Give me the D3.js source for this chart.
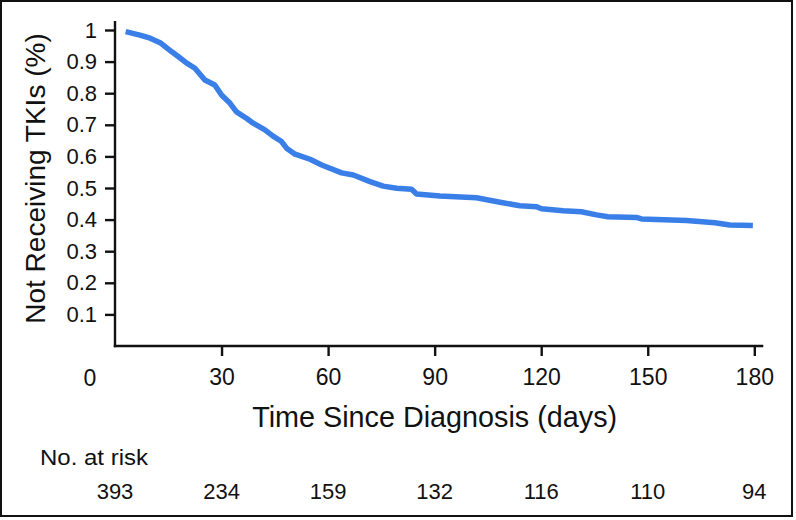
<!DOCTYPE html>
<html>
<head>
<meta charset="utf-8">
<script src="https://cdn.jsdelivr.net/npm/d3@7"></script>
<style>
  html, body { margin: 0; padding: 0; background: #fff; }
  svg { display: block; }
  text { font-family: "Liberation Sans", Arial, Helvetica, sans-serif; fill: #111; }
</style>
</head>
<body>
<svg id="chart" width="796" height="520"></svg>
<script>
// ---- data ----
const days = [3, 7, 9.9, 12.7, 16, 17.8, 20.2, 22.5, 25.3, 28.1, 30, 32.4, 34.2, 37.1, 38.9, 42.2, 44.5, 46.9, 48.3, 50.7, 54.9, 58.2, 63.8, 67.1, 71.8, 75.5, 79.3, 83.5, 84.9, 91.5, 101.8, 108.4, 114, 118.7, 120.1, 126.2, 131.3, 135.6, 138.8, 146.8, 148.2, 160.9, 168.9, 173.1, 179.6];
const notReceiving = [0.995, 0.984, 0.974, 0.960, 0.931, 0.916, 0.895, 0.879, 0.842, 0.826, 0.794, 0.768, 0.741, 0.720, 0.705, 0.684, 0.664, 0.647, 0.626, 0.607, 0.591, 0.573, 0.548, 0.541, 0.520, 0.506, 0.499, 0.496, 0.481, 0.475, 0.469, 0.455, 0.444, 0.441, 0.434, 0.428, 0.425, 0.415, 0.409, 0.407, 0.402, 0.397, 0.390, 0.383, 0.381];
const xTicks = [30, 60, 90, 120, 150, 180];
const yTicks = [0.1, 0.2, 0.3, 0.4, 0.5, 0.6, 0.7, 0.8, 0.9, 1];
const riskDays = [0, 30, 60, 90, 120, 150, 180];
const atRisk = [393, 234, 159, 132, 116, 110, 94];
const xTitle = "Time Since Diagnosis (days)";
const yTitle = "Not Receiving TKIs (%)";
const riskTitle = "No. at risk";

// ---- layout ----
const svg = d3.select("#chart");
const x = d3.scaleLinear().domain([0, 180]).range([115, 754.3]);
const y = d3.scaleLinear().domain([0, 1]).range([346, 30]);
const axisColor = "#111";

// outer frame
svg.append("rect")
  .attr("x", 1).attr("y", 1).attr("width", 791).attr("height", 515)
  .attr("fill", "none").attr("stroke", "#111").attr("stroke-width", 2);

// y axis
const yAxis = d3.axisLeft(y).tickValues(yTicks).tickSize(10).tickPadding(8)
  .tickFormat(d => d === 1 ? "1" : d3.format(".1f")(d));
const gy = svg.append("g").attr("transform", `translate(${x(0)},0)`).call(yAxis);
gy.select(".domain").remove();
gy.selectAll(".tick line").attr("stroke", axisColor).attr("stroke-width", 2.4);
gy.selectAll(".tick text").attr("font-size", 22).attr("fill", "#111")
  .attr("font-family", '"Liberation Sans", Arial, sans-serif');
svg.append("line")
  .attr("x1", x(0)).attr("x2", x(0)).attr("y1", y(0) + 1.2).attr("y2", y(1) - 9)
  .attr("stroke", axisColor).attr("stroke-width", 2.4);

// x axis
const xAxis = d3.axisBottom(x).tickValues(xTicks).tickSize(10).tickPadding(13);
const gx = svg.append("g").attr("transform", `translate(0,${y(0)})`).call(xAxis);
gx.select(".domain").remove();
gx.selectAll(".tick line").attr("stroke", axisColor).attr("stroke-width", 2.4);
gx.selectAll(".tick text").attr("font-size", 23).attr("fill", "#111")
  .attr("font-family", '"Liberation Sans", Arial, sans-serif');
svg.append("line")
  .attr("x1", x(0) - 1.2).attr("x2", x(180) + 9).attr("y1", y(0)).attr("y2", y(0))
  .attr("stroke", axisColor).attr("stroke-width", 2.4);
// the "0" label sits left of the origin
svg.append("text")
  .attr("x", x(0) - 25).attr("y", 385.5)
  .attr("text-anchor", "middle").attr("font-size", 23)
  .text("0");

// curve
const line = d3.line()
  .x((d, i) => x(days[i]))
  .y((d, i) => y(notReceiving[i]))
  .curve(d3.curveLinear);
svg.append("path")
  .datum(notReceiving)
  .attr("d", line)
  .attr("fill", "none")
  .attr("stroke", "#3a7fe8")
  .attr("stroke-width", 5.5)
  .attr("stroke-linejoin", "round")
  .attr("stroke-linecap", "butt");

// axis titles
svg.append("text")
  .attr("x", (x(0) + x(180)) / 2).attr("y", 427)
  .attr("text-anchor", "middle").attr("font-size", 30)
  .attr("textLength", 365).attr("lengthAdjust", "spacingAndGlyphs")
  .text(xTitle);

svg.append("text")
  .attr("transform", "translate(45,178.5) rotate(-90)")
  .attr("text-anchor", "middle").attr("font-size", 28)
  .text(yTitle);

// at-risk table
svg.append("text")
  .attr("x", 40).attr("y", 465)
  .attr("font-size", 22)
  .attr("textLength", 108).attr("lengthAdjust", "spacingAndGlyphs")
  .text(riskTitle);

svg.append("g").selectAll("text")
  .data(atRisk)
  .join("text")
  .attr("x", (d, i) => x(riskDays[i]))
  .attr("y", 499)
  .attr("text-anchor", "middle")
  .attr("font-size", 22)
  .text(d => d);
</script>
</body>
</html>
